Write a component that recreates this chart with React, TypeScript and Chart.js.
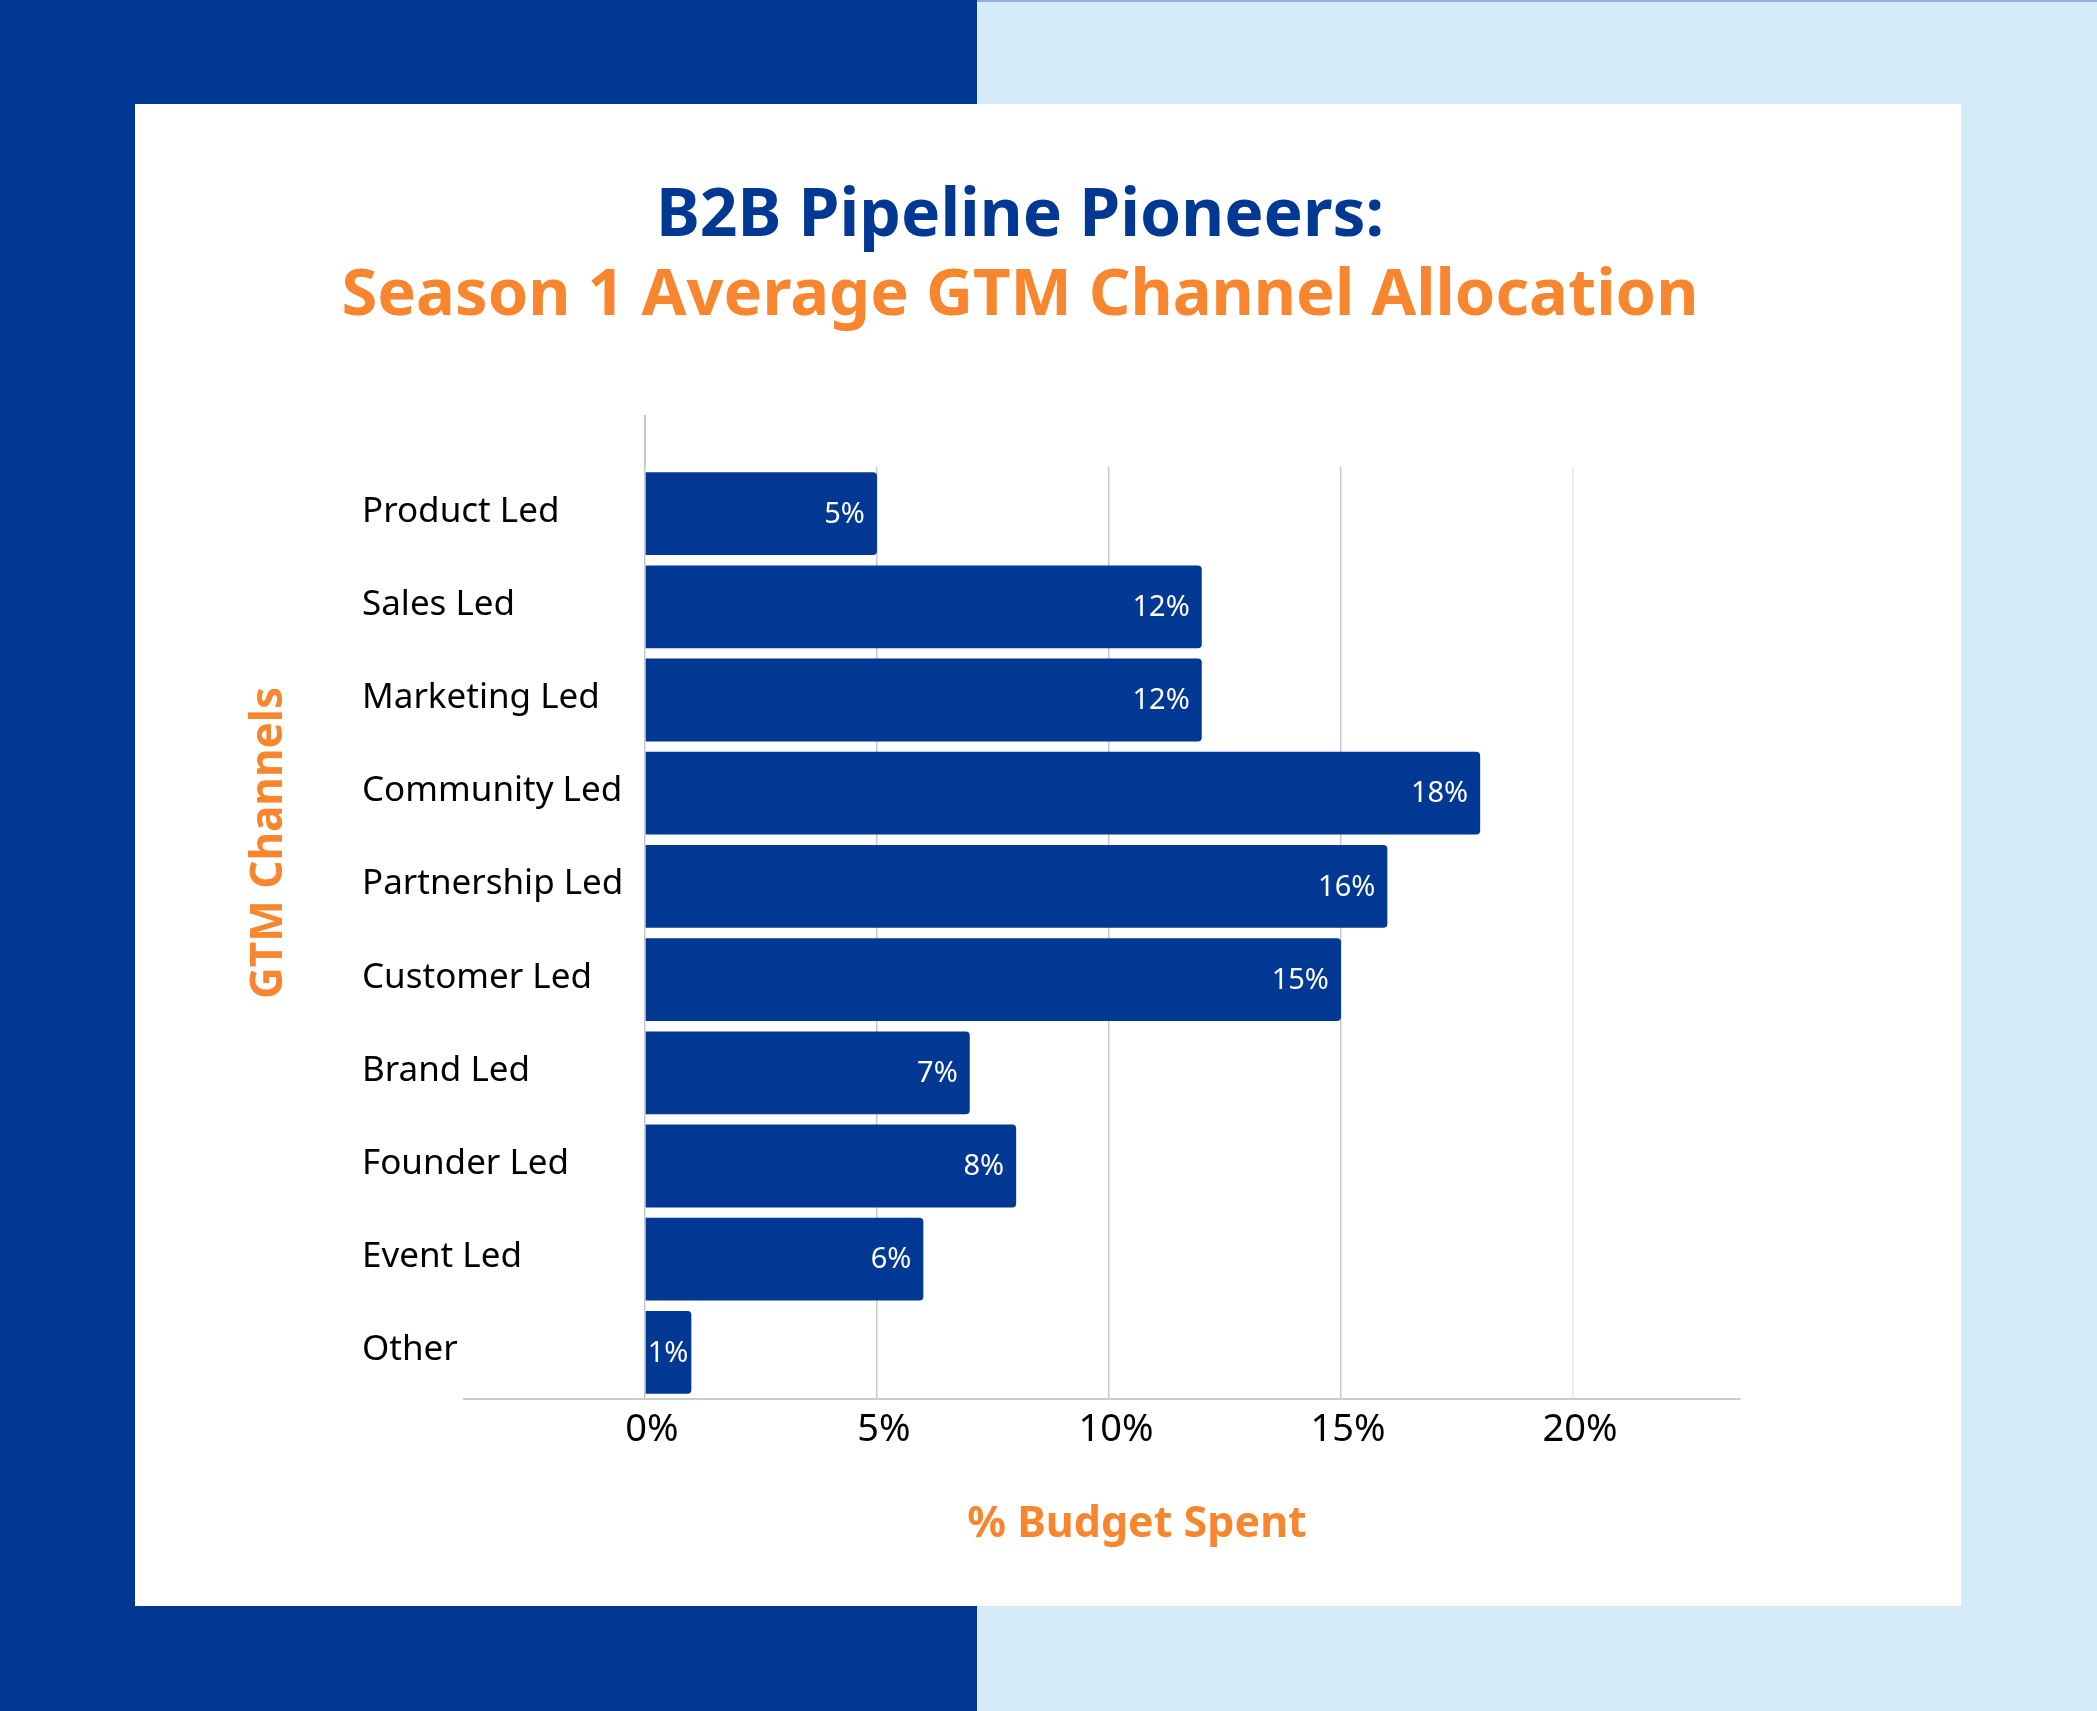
import React, { useEffect, useRef } from "react";
import { Chart, registerables } from "chart.js";

Chart.register(...registerables);

const categories = [
  "Product Led",
  "Sales Led",
  "Marketing Led",
  "Community Led",
  "Partnership Led",
  "Customer Led",
  "Brand Led",
  "Founder Led",
  "Event Led",
  "Other",
];
const budgetShare = [5, 12, 12, 18, 16, 15, 7, 8, 6, 1];
const xTickValues = [0, 5, 10, 15, 20];
const titleLine1 = "B2B Pipeline Pioneers:";
const titleLine2 = "Season 1 Average GTM Channel Allocation";
const xAxisTitle = "% Budget Spent";
const yAxisTitle = "GTM Channels";

const DARK = "#003893";
const ORANGE = "#F7862F";
const LIGHT = "#D6EBF8";
const FONT = "'Noto Sans', sans-serif";
const Y_AXIS_WIDTH = 102;

const valueLabels = {
  id: "valueLabels",
  afterDatasetsDraw(chart: any) {
    const ctx = chart.ctx;
    const meta = chart.getDatasetMeta(0);
    ctx.save();
    ctx.font = `29px ${FONT}`;
    ctx.fillStyle = "#ffffff";
    ctx.textBaseline = "middle";
    ctx.textAlign = "left";
    meta.data.forEach((bar: any, i: number) => {
      const { x, y, base } = bar.getProps(["x", "y", "base"], true);
      const text = budgetShare[i] + "%";
      const w = ctx.measureText(text).width;
      let left = x - 12 - w;
      if (left < base + 2) left = base + 2;
      ctx.fillText(text, left, y + 1);
    });
    ctx.restore();
  },
};

const categoryLabels = {
  id: "categoryLabels",
  afterDraw(chart: any) {
    const ctx = chart.ctx;
    const yScale = chart.scales.y;
    const left = chart.chartArea.left - Y_AXIS_WIDTH;
    ctx.save();
    ctx.font = `35px ${FONT}`;
    ctx.fillStyle = "#000000";
    ctx.textBaseline = "middle";
    ctx.textAlign = "left";
    (chart.data.labels as string[]).forEach((label, i) => {
      ctx.fillText(label, left, yScale.getPixelForTick(i) - 2);
    });
    ctx.restore();
  },
};

const zeroLine = {
  id: "zeroLine",
  beforeDatasetsDraw(chart: any) {
    const ctx = chart.ctx;
    const x0 = chart.scales.x.getPixelForValue(0);
    const top = chart.chartArea.top;
    ctx.save();
    ctx.strokeStyle = "#c8c8c8";
    ctx.lineWidth = 2;
    ctx.beginPath();
    ctx.moveTo(x0, top - 52);
    ctx.lineTo(x0, top);
    ctx.stroke();
    ctx.restore();
  },
};

export default function App() {
  const canvasRef = useRef<HTMLCanvasElement | null>(null);

  useEffect(() => {
    if (!canvasRef.current) return;
    const chart = new Chart(canvasRef.current, {
      type: "bar",
      data: {
        labels: categories,
        datasets: [
          {
            data: budgetShare,
            backgroundColor: DARK,
            borderRadius: 4,
            borderSkipped: "start",
            barPercentage: 0.888,
            categoryPercentage: 1,
          },
        ],
      },
      options: {
        indexAxis: "y",
        responsive: false,
        animation: false,
        devicePixelRatio: 1,
        layout: { padding: { left: 227, right: 221, top: 363, bottom: 147 } },
        plugins: {
          legend: { display: false },
          tooltip: { enabled: false },
        },
        scales: {
          x: {
            type: "linear",
            min: -3.9,
            max: 23.6,
            afterBuildTicks: (s: any) => {
              s.ticks = xTickValues.map((v) => ({ value: v }));
            },
            afterFit: (s: any) => {
              s.height = 60;
            },
            ticks: {
              callback: (v: any) => v + "%",
              font: { family: FONT, size: 38 },
              color: "#000000",
              padding: 8,
              labelOffset: 7,
              maxRotation: 0,
              autoSkip: false,
            },
            grid: {
              drawTicks: false,
              color: (ctx: any) =>
                ctx.tick && ctx.tick.value === 20 ? "#e6e6e6" : "#c8c8c8",
              lineWidth: 1.5,
            },
            border: { display: true, color: "#cccccc", width: 2 },
          },
          y: {
            afterFit: (s: any) => {
              s.width = Y_AXIS_WIDTH;
            },
            grid: { display: false },
            border: { display: false },
            ticks: { display: false },
          },
        },
      },
      plugins: [valueLabels, zeroLine, categoryLabels],
    } as any);
    return () => chart.destroy();
  }, []);

  const abs = (o: React.CSSProperties): React.CSSProperties => ({ position: "absolute", ...o });

  return (
    <div style={abs({ left: 0, top: 0, width: 2097, height: 1711, background: LIGHT, overflow: "hidden" })}>
      <div style={abs({ left: 0, top: 0, width: 977, height: 1711, background: DARK })} />
      <div style={abs({ left: 977, top: 0, width: 1120, height: 2, background: "#8fafd8" })} />
      <div style={abs({ left: 135, top: 104, width: 1826, height: 1502, background: "#ffffff" })}>
        <canvas ref={canvasRef} width={1826} height={1502} style={{ position: "absolute", left: 0, top: 0, width: 1826, height: 1502 }} />
      </div>
      <div
        style={abs({
          left: 0, top: 177, width: 2040, textAlign: "center",
          fontFamily: FONT, fontWeight: 700, fontSize: 66, lineHeight: "66px", color: DARK, whiteSpace: "nowrap",
        })}
      >
        {titleLine1}
      </div>
      <div
        style={abs({
          left: 0, top: 258, width: 2040, textAlign: "center",
          fontFamily: FONT, fontWeight: 700, fontSize: 65, lineHeight: "65px", color: ORANGE, whiteSpace: "nowrap",
        })}
      >
        {titleLine2}
      </div>
      <div
        style={abs({
          left: 1137 - 300, top: 1499, width: 600, textAlign: "center",
          fontFamily: FONT, fontWeight: 700, fontSize: 43, lineHeight: "43px", color: ORANGE, whiteSpace: "nowrap",
        })}
      >
        {xAxisTitle}
      </div>
      <div
        style={abs({
          left: 265 - 300, top: 843 - 25, width: 600, height: 50, textAlign: "center",
          fontFamily: FONT, fontWeight: 700, fontSize: 44, lineHeight: "50px", color: ORANGE, whiteSpace: "nowrap",
          transform: "rotate(-90deg)",
        })}
      >
        {yAxisTitle}
      </div>
    </div>
  );
}
